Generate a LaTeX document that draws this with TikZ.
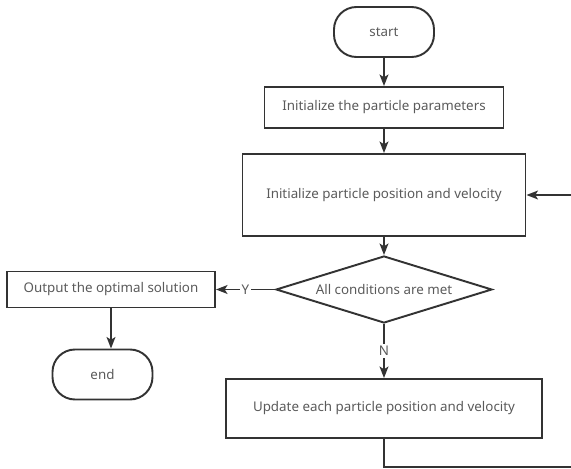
\documentclass[tikz,border=0pt]{standalone}
\usepackage{fontspec}
\setmainfont{Noto Sans}
\usepackage{xcolor}
\usepackage{tikz}
\usetikzlibrary{shapes,arrows.meta,positioning,calc}
\definecolor{flowline}{HTML}{333333}
\definecolor{flowtext}{HTML}{5A5A5A}

\begin{document}
\begin{tikzpicture}[
    node distance=2cm,
    every node/.style={font=\fontsize{7.6}{9}\selectfont, text=flowtext},
    terminal/.style={rectangle, draw=flowline, rounded corners=0.45cm, line width=1.1pt,
                     minimum width=2cm, minimum height=1cm, inner sep=0pt},
    process/.style={rectangle, draw=flowline, line width=1.1pt, inner sep=0pt},
    decision/.style={diamond, draw=flowline, line width=1.1pt, inner sep=0pt, aspect=3.2,
                     minimum width=4.32cm, minimum height=1.34cm},
    tag/.style={fill=white, inner sep=1pt},
    arrow/.style={-{Stealth[length=6.5pt,width=5pt,inset=1.5pt]}, line width=1.1pt, color=flowline}
]
    \useasboundingbox (0,0) rectangle (11.42,-9.38);

    \node[terminal] (start) at (7.68,-0.64) {start};
    \node[process, below of=start, yshift=0.49cm, minimum width=4.78cm, minimum height=0.82cm] (initparams) {Initialize the particle parameters};
    \node[process, below of=initparams, yshift=0.25cm, minimum width=5.66cm, minimum height=1.64cm] (initpos) {Initialize particle position and velocity};
    \node[decision, below of=initpos, yshift=0.11cm] (cond) {All conditions are met};
    \node[process, below of=cond, yshift=-0.38cm, minimum width=6.32cm, minimum height=1.18cm] (update) {Update each particle position and velocity};
    \node[process, left of=cond, xshift=-3.46cm, minimum width=4.16cm, minimum height=0.72cm] (output) {Output the optimal solution};
    \node[terminal, below of=output, yshift=0.3cm, xshift=-0.17cm] (end) {end};
    \coordinate (loop) at (11.6,-9.34);

    \draw[arrow] (start) -- (initparams);
    \draw[arrow] (initparams) -- (initpos);
    \draw[arrow] (initpos) -- (cond);
    \draw[arrow] (cond) -- node[tag] {Y} (output);
    \draw[arrow] (cond) -- node[tag] {N} (update);
    \draw[arrow] (output.south) -- (output.south |- end.north);
    \draw[arrow] (update.south) |- (loop) |- (initpos.east);
\end{tikzpicture}
\end{document}
